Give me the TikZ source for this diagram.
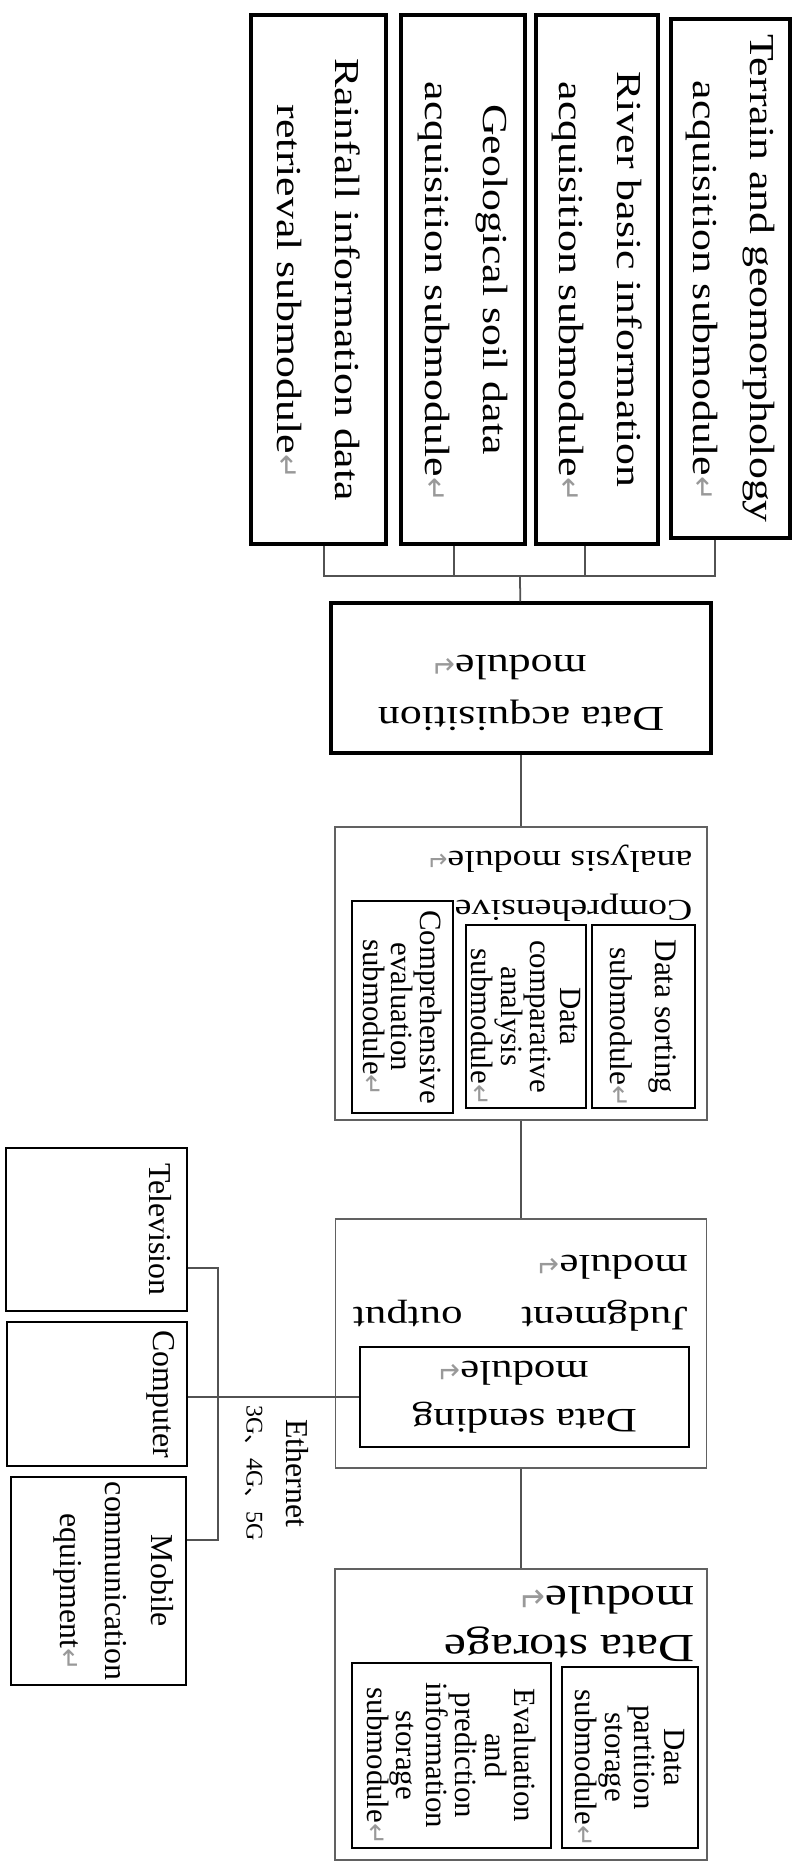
\documentclass[tikz,border=0pt]{standalone}
\usepackage{graphicx}
\usepackage{fontspec}
\setmainfont{Liberation Serif}
\newfontfamily\wideserif[FakeStretch=1.25]{Liberation Serif}
\newfontfamily\symfont{DejaVu Sans}
\newfontfamily\cjkfont{Noto Sans CJK SC}
\usetikzlibrary{calc}

% sizes are given in pixels of the 795 x 1865 figure
\newcommand\pxsize[2]{\fontsize{\fpeval{#1*0.5669}}{\fpeval{#2*0.5669}}\selectfont}
\newcommand\pmark{\rlap{\color{black!40}\symfont\scalebox{0.85}{↵}}}
\newcommand\topfont{\wideserif\pxsize{35.2}{58}}
\newcommand\subfont{\pxsize{31}{29.5}}

\begin{document}
\begin{tikzpicture}[x=0.02cm, y=-0.02cm,
    heavy/.style={draw=black, line width=1.8pt},
    modbox/.style={draw=black!62, line width=1.1pt},
    thin/.style={draw=black, line width=1pt},
    dims/.style 2 args={minimum width=#1*0.02cm, minimum height=#2*0.02cm},
    vlabel/.style={rotate=-90, align=center, inner sep=0pt},
    ulabel/.style={rotate=180, inner sep=0pt},
    link/.style={draw=black!68, line width=1pt}]
    \useasboundingbox (0,0) rectangle (795,1865);

    % ACQUISITION SUBMODULES
    \node[heavy, vlabel, dims={529}{135}, font=\topfont] (rain) at (318.5,279.5) {Rainfall information data\\retrieval submodule\pmark};
    \node[heavy, vlabel, dims={529}{124}, font=\topfont] (geo) at (463,279.5) {Geological soil data\\acquisition submodule\pmark};
    \node[heavy, vlabel, dims={529}{122}, font=\topfont] (river) at (597,279.5) {River basic information\\acquisition submodule\pmark};
    \node[heavy, vlabel, dims={519}{119}, font=\topfont] (terrain) at (730.5,278.5) {Terrain and geomorphology\\acquisition submodule\pmark};

    % MAIN MODULES
    \node[heavy, dims={380}{150}] (acq) at (521,678) {};
    \node[ulabel, align=center, font=\wideserif\pxsize{35.2}{52}] (acqname) at (521,693) {Data acquisition\\module\pmark};

    \node[modbox, dims={372}{293}] (comp) at (521,973.5) {};
    \node[ulabel, align=left, font=\wideserif\pxsize{30.4}{49}] (compname) at (570,883) {Comprehensive\\analysis module\pmark};
    \node[thin, vlabel, dims={183}{103}, font=\pxsize{31.5}{45}] (sort) at (643.5,1016.5) {Data sorting\\submodule\pmark};
    \node[thin, vlabel, dims={183}{120}, font=\subfont] (contrast) at (526,1016.5) {Data\\comparative\\analysis\\submodule\pmark};
    \node[thin, vlabel, dims={212}{101}, font=\pxsize{31}{28}] (evaluate) at (402.5,1007) {Comprehensive\\evaluation\\submodule\pmark};

    \node[modbox, dims={371}{249}] (judge) at (521,1343.5) {};
    \node[ulabel, align=left, text width=6.7cm, font=\wideserif\pxsize{34.4}{52}] (judgename) at (520.5,1293) {Judgment\hfill output\\module\pmark};
    \node[thin, dims={329}{100}] (send) at (524.5,1397) {};
    \node[ulabel, align=center, font=\wideserif\pxsize{34.4}{48}] (sendname) at (524.5,1397) {Data sending\\module\pmark};

    \node[modbox, dims={372}{291}] (store) at (521,1714.5) {};
    \node[ulabel, align=left, font=\wideserif\pxsize{40}{49}] (storename) at (569.5,1624) {Data storage\\module\pmark};
    \node[thin, vlabel, dims={181}{136}, font=\subfont] (partition) at (630,1757.5) {Data\\partition\\storage\\submodule\pmark};
    \node[thin, vlabel, dims={185}{199}, font=\subfont] (forecast) at (451.5,1755.5) {Evaluation\\and\\prediction\\information\\storage\\submodule\pmark};

    % TERMINALS
    \node[thin, dims={181}{163}] (tv) at (96.5,1229.5) {};
    \node[vlabel, font=\pxsize{32}{46}] (tvname) at (160,1229.5) {Television};
    \node[thin, dims={180}{144}] (pc) at (97,1394) {};
    \node[vlabel, font=\pxsize{32}{46}] (pcname) at (161,1394) {Computer};
    \node[thin, dims={175}{208}] (mob) at (98.5,1581) {};
    \node[vlabel, font=\pxsize{32}{46}] (mobname) at (113.5,1581) {Mobile\\communication\\equipment\pmark};
    \node[vlabel, font=\pxsize{32}{40}] (net) at (277,1473) {Ethernet\\{\pxsize{24}{40}3G{\cjkfont 、}4G{\cjkfont 、}5G}};

    % CONNECTORS
    \coordinate (bus) at (520,576);
    \foreach \b/\dx in {rain/5.5, geo/-9, river/-12, terrain/-15.5}
        \draw[link] ($(\b.east)+(\dx,0)$) |- (bus);
    \draw[link] (bus) -- (acq);
    \draw[link] (acq) -- (comp);
    \draw[link] (comp) -- (judge);
    \draw[link] (judge) -- (store);

    \coordinate (hub) at (218,1397);
    \draw[link] (send.west) -- (send.west -| pc.east);
    \draw[link] ($(tv.east)+(0,38.5)$) -| (hub) |- ($(mob.east)+(0,-41)$);
\end{tikzpicture}
\end{document}
